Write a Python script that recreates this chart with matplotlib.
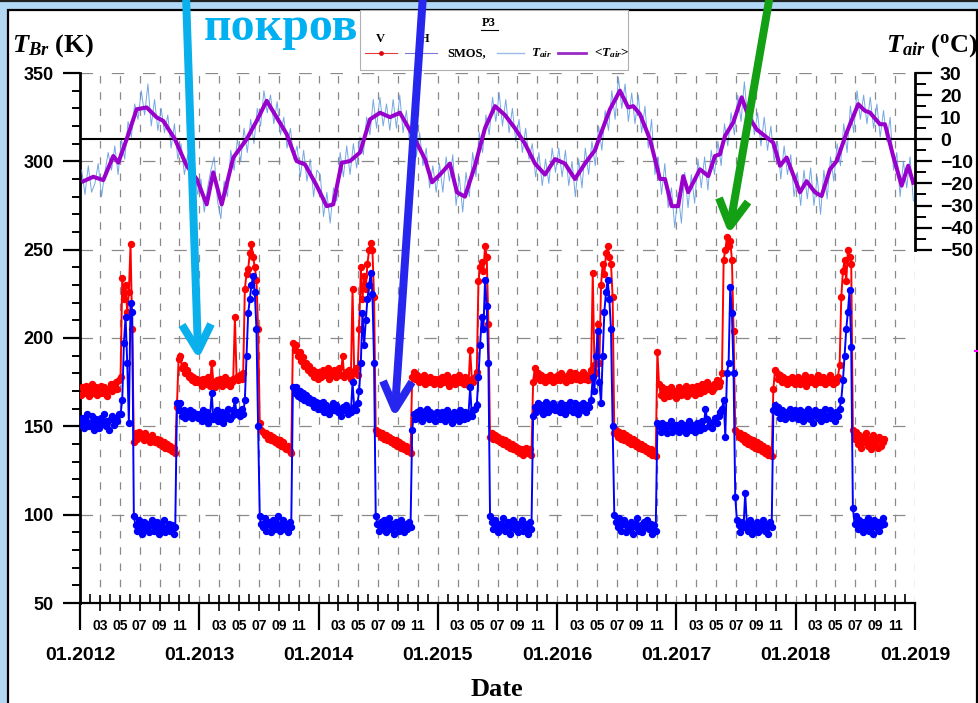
import numpy as np
import matplotlib
matplotlib.use("Agg")
import matplotlib.pyplot as plt
from matplotlib.patches import Rectangle
from matplotlib.ticker import FixedLocator

plt.rcParams['font.family'] = ['Liberation Sans', 'DejaVu Sans']
plt.rcParams['font.weight'] = 'bold'
plt.rcParams['mathtext.fontset'] = 'custom'
plt.rcParams['mathtext.it'] = 'Liberation Serif:italic:bold'
plt.rcParams['mathtext.rm'] = 'Liberation Serif:bold'
plt.rcParams['mathtext.bf'] = 'Liberation Serif:bold'

# ---------------------------------------------------------------- data
YEARS = [2012, 2013, 2014, 2015, 2016, 2017, 2018]
NAN = np.nan

# SMOS brightness temperature, V polarisation (K), five-day values per year
V_2012 = [168, 172, 169, 173, 170, 167, 171, 174, 169, 172, 168, 171, 173, 169, 172, 170, 167, 171,
          174, 170, 172, 175, 171, 176, 178, 234, 222, 230, 215, 226, 253, 205, 141, 146, 143, 147,
          144, 145, 142, 146, 143, 144, 141, 145, 142, 141, 143, 140, 142, 139, 141, 138, 140, 137,
          139, 136, 138, 135, 161, 188, 190, 183, 185, 180, 182, 178, 179, 176, 178, 175, 177, 175]
V_2013 = [176, 173, 177, 174, 175, 178, 173, 186, 175, 172, 176, 174, 177, 173, 175, 178, 174, 176,
          173, 175, 177, 212, 178, 176, 179, 177, 180, 228, 236, 239, 248, 253, 246, 240, 233, 205,
          152, 148, 147, 145, 146, 143, 145, 142, 144, 141, 143, 140, 142, 139, 141, 138, 137, 139,
          136, 135, 197, 193, 196, 190, 192, 187, 189, 184, 186, 182, 184, 180, 182, 178, 181, 177]
V_2014 = [181, 178, 182, 179, 180, 183, 177, 181, 179, 182, 178, 180, 183, 179, 190, 178, 181, 179,
          182, 177, 228, 180, 183, 179, 205, 240, 222, 235, 228, 242, 250, 254, 250, 223, 148, 146,
          147, 144, 146, 143, 145, 142, 144, 141, 143, 140, 142, 139, 141, 138, 140, 137, 139, 136,
          138, 135, 178, 181, 177, 179, 175, 178, 176, 179, 174, 177, 175, 178, 176, 174, 177, 175]
V_2015 = [177, 174, 178, 175, 176, 179, 173, 177, 175, 178, 174, 176, 179, 175, 177, 174, 178, 176,
          173, 193, 177, 175, 178, 181, 232, 240, 243, 238, 252, 246, 208, 144, 146, 143, 145, 142,
          144, 141, 143, 140, 142, 139, 141, 138, 140, 137, 139, 136, 138, 135, 137, 134, 136, 138,
          135, 137, 134, 175, 183, 178, 180, 176, 179, 177, 175, 178, 176, 179, 177, 175, 178, 176]
V_2016 = [179, 176, 180, 177, 178, 175, 179, 181, 176, 178, 180, 177, 179, 176, 178, 181, 177, 179,
          176, 178, 182, 237, 185, 180, 208, 186, 230, 242, 236, 248, 252, 246, 242, 223, 146, 148,
          144, 147, 143, 146, 142, 145, 141, 144, 140, 143, 142, 139, 141, 138, 140, 137, 139, 136,
          138, 135, 137, 134, 136, 133, 192, 174, 168, 172, 166, 171, 169, 167, 172, 168, 170, 166]
V_2017 = [169, 172, 168, 171, 170, 173, 167, 171, 169, 172, 170, 168, 173, 171, 169, 174, 170, 172,
          175, 171, 173, 170, 174, 172, 176, 173, 175, 180, 244, 250, 257, 252, 255, 244, 204, 148,
          147, 144, 146, 143, 145, 141, 144, 140, 143, 139, 142, 138, 141, 137, 140, 136, 139, 135,
          138, 134, 136, 133, 171, 182, 180, 177, 179, 175, 178, 176, 174, 177, 175, 178, 176, 174]
V_2018 = [175, 178, 174, 177, 176, 179, 173, 177, 175, 178, 176, 174, 177, 179, 175, 176, 178, 174,
          177, 175, 179, 176, 174, 177, 175, 178, 185, 223, 238, 244, 232, 250, 246, 242, 148, 143,
          147, 140, 145, 138, 144, 141, 146, 139, 143, 137, 145, 140, 142, 138, 144, 139, 141, 143,
          NAN, NAN, NAN, NAN, NAN, NAN, NAN, NAN, NAN, NAN, NAN, NAN, NAN, NAN, NAN, NAN, NAN, NAN]

# SMOS brightness temperature, H polarisation (K)
H_2012 = [151, 155, 149, 153, 157, 150, 152, 156, 148, 154, 151, 149, 155, 152, 157, 150, 153, 148,
          154, 156, 151, 155, 153, 157, 157, 165, 197, 212, 186, 152, 220, 215, 99, 94, 91, 97,
          93, 89, 96, 92, 95, 90, 94, 97, 91, 93, 96, 89, 94, 92, 97, 90, 93, 95, 91, 94, 89, 93,
          163, 159, 163, 156, 159, 155, 158, 156, 159, 155, 158, 156, 157, 155]
H_2013 = [157, 153, 159, 155, 158, 152, 156, 169, 154, 157, 159, 153, 156, 158, 152, 157, 155, 160,
          154, 156, 159, 165, 157, 158, 156, 160, 157, 165, 190, 214, 222, 230, 235, 226, 205, 150,
          99, 95, 93, 98, 91, 96, 94, 90, 97, 92, 95, 99, 91, 94, 97, 92, 95, 90, 96, 93,
          172, 169, 172, 167, 170, 166, 169, 165, 168, 164, 166, 163, 165, 161, 164, 160]
H_2014 = [163, 160, 164, 158, 162, 160, 157, 161, 163, 159, 162, 158, 160, 156, 161, 159, 162, 157,
          160, 158, 175, 161, 159, 163, 170, 186, 214, 196, 210, 222, 230, 237, 225, 186, 99, 95,
          91, 96, 93, 97, 90, 94, 98, 92, 95, 89, 96, 93, 91, 97, 94, 90, 95, 92, 96, 93,
          148, 157, 154, 158, 155, 159, 153, 157, 156, 160, 154, 158, 155, 157, 153, 158]
H_2015 = [157, 154, 158, 156, 153, 159, 155, 157, 152, 158, 155, 157, 153, 159, 156, 154, 158, 155,
          157, 172, 156, 159, 160, 162, 178, 196, 212, 205, 233, 218, 186, 99, 96, 92, 97, 94,
          90, 95, 93, 98, 91, 94, 96, 89, 93, 97, 92, 95, 90, 94, 97, 91, 95, 93, 89, 96,
          92, 156, 161, 158, 163, 159, 162, 157, 161, 164, 158, 162, 160, 163, 159, 161]
H_2016 = [161, 158, 163, 160, 157, 162, 159, 164, 160, 158, 163, 161, 157, 162, 159, 163, 160, 158,
          162, 161, 165, 178, 170, 190, 204, 175, 163, 190, 215, 226, 233, 222, 205, 150, 100, 96,
          93, 98, 91, 95, 97, 90, 94, 92, 96, 89, 95, 93, 98, 91, 94, 90, 96, 93, 97, 92,
          95, 89, 94, 91, 152, 150, 147, 152, 148, 151, 146, 150, 153, 147, 149, 151]
H_2017 = [150, 147, 152, 149, 151, 146, 150, 153, 148, 151, 149, 147, 152, 150, 148, 153, 149, 160,
          154, 150, 152, 149, 153, 155, 152, 156, 158, 160, 165, 144, 180, 186, 229, 214, 180, 110,
          97, 94, 90, 96, 93, 112, 95, 91, 97, 89, 94, 92, 96, 90, 95, 93, 97, 91, 94, 89,
          96, 93, 159, 162, 158, 161, 155, 159, 157, 154, 158, 156, 160, 155, 157, 159]
H_2018 = [157, 154, 159, 156, 153, 158, 155, 160, 154, 157, 152, 159, 156, 155, 158, 153, 157, 160,
          154, 156, 159, 155, 157, 153, 158, 156, 160, 165, 176, 190, 205, 215, 227, 195, 104, 95,
          99, 92, 97, 94, 90, 96, 93, 98, 91, 95, 89, 97, 93, 96, 91, 94, 98, 95,
          NAN, NAN, NAN, NAN, NAN, NAN, NAN, NAN, NAN, NAN, NAN, NAN, NAN, NAN, NAN, NAN, NAN, NAN]

# air temperature (deg C), ten-day values per year
TAIR_2012 = [-14, -25, -12, -24, -20, -11, -26, -15, -6, -14, -3, -16, 0, -9, 8, 1, 16, 9,
             22, 11, 25, 6, 18, 4, 14, 3, 11, -4, 7, -9, -2, -16, -7, -22, -11, -25]
TAIR_2013 = [-18, -33, -22, -14, -8, -28, -36, -19, -26, -5, -14, 0, -10, 5, -6, 9, -2, 14,
             6, 22, 12, 20, 7, 17, 2, 10, -4, 5, -9, -3, -17, -5, -19, -9, -26, -14]
TAIR_2014 = [-16, -35, -24, -38, -22, -28, -6, -17, -3, -16, -2, -13, 1, -7, 10, 2, 18, 5,
             19, 6, 16, 4, 18, 5, 20, 3, 13, -2, 7, -8, 3, -12, -4, -22, -12, -24]
TAIR_2015 = [-11, -24, -8, -19, -7, -30, -17, -33, -15, -26, -6, -17, 3, -6, 11, 2, 19, 8,
             21, 6, 18, 3, 14, -1, 9, -6, 5, -9, -2, -17, -6, -21, -9, -20, -4, -15]
TAIR_2016 = [-4, -17, -5, -21, -10, -26, -9, -22, -4, -16, -1, -12, 6, -5, 13, 4, 22, 9,
             28, 14, 25, 8, 21, 7, 20, 3, 15, -4, 9, -16, -8, -25, -11, -31, -22, -40]
TAIR_2017 = [-24, -38, -15, -31, -16, -29, -9, -22, -8, -23, -5, -16, -1, -12, 7, -3, 12, 2,
             20, 8, 26, 9, 19, 2, 12, -3, 10, -5, 6, -10, -1, -18, -3, -16, -7, -26]
TAIR_2018 = [-15, -30, -14, -27, -13, -30, -17, -34, -14, -27, -8, -19, -2, -12, 7, -6, 15, 3,
             22, 9, 20, 7, 19, 5, 16, 1, 13, -1, 10, -14, -6, -26, -10, -22, -8, -28]

# smoothed air temperature <T_air>
MEAN_T_YEAR = [
    2012.028, 2012.111, 2012.195, 2012.279, 2012.321, 2012.391, 2012.475, 2012.559, 2012.643,
    2012.698, 2012.796, 2012.894, 2012.978,
    2013.062, 2013.117, 2013.188, 2013.285, 2013.397, 2013.481, 2013.565, 2013.649, 2013.733,
    2013.816, 2013.886, 2013.984,
    2014.068, 2014.123, 2014.194, 2014.263, 2014.347, 2014.431, 2014.515, 2014.599, 2014.682,
    2014.724, 2014.808, 2014.892, 2014.951,
    2015.018, 2015.101, 2015.160, 2015.227, 2015.311, 2015.395, 2015.479, 2015.562, 2015.646,
    2015.730, 2015.814, 2015.898, 2015.982,
    2016.065, 2016.149, 2016.233, 2016.317, 2016.359, 2016.443, 2016.526, 2016.596, 2016.638,
    2016.694, 2016.778, 2016.862, 2016.904, 2016.960,
    2017.015, 2017.057, 2017.099, 2017.197, 2017.267, 2017.323, 2017.365, 2017.407, 2017.476,
    2017.547, 2017.602, 2017.672, 2017.811, 2017.868, 2017.924,
    2018.035, 2018.091, 2018.161, 2018.217, 2018.287, 2018.343, 2018.427, 2018.524, 2018.580,
    2018.622, 2018.706, 2018.748, 2018.817, 2018.888, 2018.943, 2018.985,
]
MEAN_T_VALUE = [
    -19, -17, -18.5, -7.6, -10.6, 0, 13.6, 14.4, 9.9, 8.3, 0, -12, -18,
    -29.5, -15, -29.5, -8.3, 0, 8.3, 17.4, 9.9, 2.3, -9.9, -11.4, -21,
    -30.3, -29.5, -10.6, -9.9, -6, 9, 12, 10, 12, 8, 0, -9, -19.5,
    -16, -11, -24, -26, -12, 5, 15, 11, 5, -2, -11, -16, -9,
    -11, -18, -11, -5, 1.5, 13.6, 22, 14.4, 15, 11.4, 0, -18, -18, -30.3,
    -30.3, -16.7, -24, -13.6, -16.7, -7.6, -6.8, 1.5, 7.6, 19, 10.6, 4.5, -1.5, -12, -8.3,
    -24, -19, -24, -25.7, -13.6, -9.9, 3, 15.9, 12.9, 12.1, 6.8, 6.8, -7.6, -21, -12, -19.7,
]

TB_TICKS = [50, 100, 150, 200, 250, 300, 350]
TAIR_TICKS = [-50, -40, -30, -20, -10, 0, 10, 20, 30]
MONTH_LABELS = ['03', '05', '07', '09', '11']


def year_series(year_lists):
    """Join per-year lists; each value sits in the middle of its slot within the year."""
    tt, vv = [], []
    for year, vals in zip(YEARS, year_lists):
        n = len(vals)
        tt.extend(year + (np.arange(n) + 0.5) / n)
        vv.extend(vals)
    return np.array(tt), np.array(vv, dtype=float)


t_v, tb_v = year_series([V_2012, V_2013, V_2014, V_2015, V_2016, V_2017, V_2018])
t_h, tb_h = year_series([H_2012, H_2013, H_2014, H_2015, H_2016, H_2017, H_2018])
t_a, t_air = year_series([TAIR_2012, TAIR_2013, TAIR_2014, TAIR_2015, TAIR_2016,
                          TAIR_2017, TAIR_2018])

# ---------------------------------------------------------------- figure
W, H = 979, 703
fig = plt.figure(figsize=(W / 100, H / 100), dpi=100)


def pixel_layer(z):
    a = fig.add_axes([0, 0, 1, 1], zorder=z)
    a.set_xlim(0, W)
    a.set_ylim(H, 0)
    a.axis('off')
    a.patch.set_visible(False)
    return a


def px2pt(p):
    return p * 0.72


bg = pixel_layer(0)
bg.add_patch(Rectangle((0, 0), W, H, facecolor='#b2d8f5', edgecolor='none'))
bg.plot([0, W], [0.8, 0.8], color='#202020', lw=1.6)
bg.add_patch(Rectangle((8, 10), 969, 710, facecolor='white', edgecolor='black', lw=1.6))

L, R, B, T = 80, 915, 603, 73
first, last = YEARS[0], YEARS[-1] + 1
ax = fig.add_axes([L / W, (H - B) / H, (R - L) / W, (B - T) / H])
ax3 = ax.twiny()
ax2 = ax.twinx()
ax3.set_zorder(1)
ax.set_zorder(2)
ax2.set_zorder(3)
for a in (ax, ax2, ax3):
    a.patch.set_visible(False)

ax.plot(t_v, tb_v, color='#ff0000', lw=1.4, marker='o', ms=4.3, mec='#ff0000', mfc='#ff0000', zorder=3)
ax.plot(t_h, tb_h, color='#0000ff', lw=1.4, marker='o', ms=4.3, mec='#0000ff', mfc='#0000ff', zorder=3)

ax2.plot(t_a, t_air, color='#5c98de', lw=0.7, alpha=0.85, zorder=1)
ax2.axhline(0, color='black', lw=1.5, zorder=1.5)
ax2.plot(MEAN_T_YEAR, MEAN_T_VALUE, color='#9a00cc', lw=2.9, solid_joinstyle='round', zorder=2)

# axes ranges: 0 deg C sits at 312.5 K, an 80 deg C span equals a 100 K span
ax.set_xlim(first, last)
ax3.set_xlim(first, last)
ax.set_ylim(50, 350)
ax2.set_ylim(-210, 30)

# ---- left axis
ax.set_yticks(TB_TICKS)
ax.yaxis.set_minor_locator(FixedLocator([v for v in range(50, 351, 10) if v % 50]))
ax.tick_params(axis='y', which='major', direction='out', length=px2pt(17), width=1.6,
               labelsize=13, pad=px2pt(9))
ax.tick_params(axis='y', which='minor', direction='out', length=px2pt(8), width=1.4)
ax.yaxis.grid(True, which='major', color='#8a8a8a', lw=0.9, linestyle=(0, (10, 15)))

# ---- month ticks
years = list(range(first, last + 1))
odd_months = [y + m / 12 for y in years[:-1] for m in (2, 4, 6, 8, 10)]
even_months = [y + m / 12 for y in years[:-1] for m in (1, 3, 5, 7, 9, 11)]
ax.set_xticks(odd_months)
ax.set_xticklabels(MONTH_LABELS * (len(years) - 1))
ax.xaxis.set_minor_locator(FixedLocator(even_months))
ax.tick_params(axis='x', which='major', direction='inout', length=px2pt(16), width=1.2,
               labelsize=10, pad=px2pt(8))
ax.tick_params(axis='x', which='minor', direction='in', length=px2pt(9), width=1.2)
ax.xaxis.grid(True, which='major', color='#8a8a8a', lw=0.9, linestyle=(0, (6, 7)))

# ---- year ticks
ax3.xaxis.tick_bottom()
ax3.set_xticks(years)
ax3.set_xticklabels(['01.%d' % y for y in years])
ax3.tick_params(axis='x', which='major', direction='out', length=px2pt(27), width=1.6,
                labelsize=14, pad=px2pt(17), top=False, labeltop=False,
                bottom=True, labelbottom=True)
ax3.xaxis.grid(True, which='major', color='#8a8a8a', lw=0.9, linestyle=(0, (6, 7)))

# ---- right axis
ax2.set_yticks(TAIR_TICKS)
ax2.yaxis.set_minor_locator(FixedLocator([v + 5 for v in TAIR_TICKS[:-1]]))
ax2.tick_params(axis='y', which='major', direction='out', length=px2pt(17), width=1.6,
                labelsize=14, pad=px2pt(8))
ax2.tick_params(axis='y', which='minor', direction='out', length=px2pt(11), width=1.4)

for s in ('top', 'right'):
    ax.spines[s].set_visible(False)
ax.spines['left'].set_linewidth(2.0)
ax.spines['bottom'].set_linewidth(1.6)
for s in ('top', 'left', 'bottom'):
    ax2.spines[s].set_visible(False)
ax2.spines['right'].set_linewidth(2.0)
ax2.spines['right'].set_bounds(-50, 30)
for s in ax3.spines.values():
    s.set_visible(False)

# ---------------------------------------------------------------- labels, legend
fg = pixel_layer(10)
serif = 'Liberation Serif'
fg.text(12, 52, '$T_{Br}$ (K)', family=serif, weight='bold', fontsize=19, va='baseline')
fg.text(978, 52, '$T_{air}$ ($^{\\rm o}$C)', family=serif, weight='bold', fontsize=19,
        va='baseline', ha='right')
fg.text(497, 689, 'Date', family=serif, weight='bold', fontsize=19, ha='center', va='center')

fg.add_patch(Rectangle((360, 10), 268, 60, facecolor='white', edgecolor='#b0b0b0', lw=0.8, zorder=1))
fg.text(489, 23, 'P3', family=serif, weight='bold', fontsize=9, ha='center', va='center', zorder=2)
fg.plot([481, 498], [29.5, 29.5], color='black', lw=0.8, zorder=2)
fg.text(380, 39, 'V', family=serif, weight='bold', fontsize=9, ha='center', va='center', zorder=2)
fg.text(425, 39, 'H', family=serif, weight='bold', fontsize=9, ha='center', va='center', zorder=2)
fg.plot([365, 397], [53, 53], color='#e83a3a', lw=0.8, zorder=2)
fg.plot([381], [53], 'o', color='#e00000', ms=2.4, zorder=2)
fg.plot([405, 437], [53, 53], color='#7a78d8', lw=0.8, zorder=2)
fg.text(447, 53, 'SMOS,', family=serif, weight='bold', fontsize=9, va='center', zorder=2)
fg.plot([497, 524], [53, 53], color='#9dbbe9', lw=1.0, zorder=2)
fg.text(531, 53, '$T_{air}$', family=serif, weight='bold', fontsize=9.5, va='center', zorder=2)
fg.plot([558, 586], [53, 53], color='#9a2ac8', lw=2.0, zorder=2)
fg.text(594, 53, '<$T_{air}$>', family=serif, weight='bold', fontsize=9.5, va='center', zorder=2)

# ---------------------------------------------------------------- slide annotations
fg.text(204, 40, 'покров', family=serif, weight='bold', fontsize=34.5, color='#00b0f0',
        va='baseline', zorder=4)


def slide_arrow(top, tip, arm1, arm2, color):
    w = px2pt(8)
    fg.plot([top[0], tip[0]], [top[1], tip[1]], color=color, lw=w, solid_capstyle='butt', zorder=5)
    fg.plot([arm1[0], tip[0], arm2[0]], [arm1[1], tip[1], arm2[1]], color=color, lw=w,
            solid_joinstyle='round', solid_capstyle='butt', zorder=5)


slide_arrow((186, -5), (198, 351), (182, 325), (211, 324), '#0ab0ec')
slide_arrow((423, -5), (395, 409), (383, 381), (412, 382), '#2626ee')
slide_arrow((770, -5), (730, 226), (719, 198), (748, 202), '#14a014')
fg.plot([975, 979], [350.5, 350.5], color='#ff00ff', lw=1.5, zorder=5)

fig.savefig('out.png', dpi=100)
